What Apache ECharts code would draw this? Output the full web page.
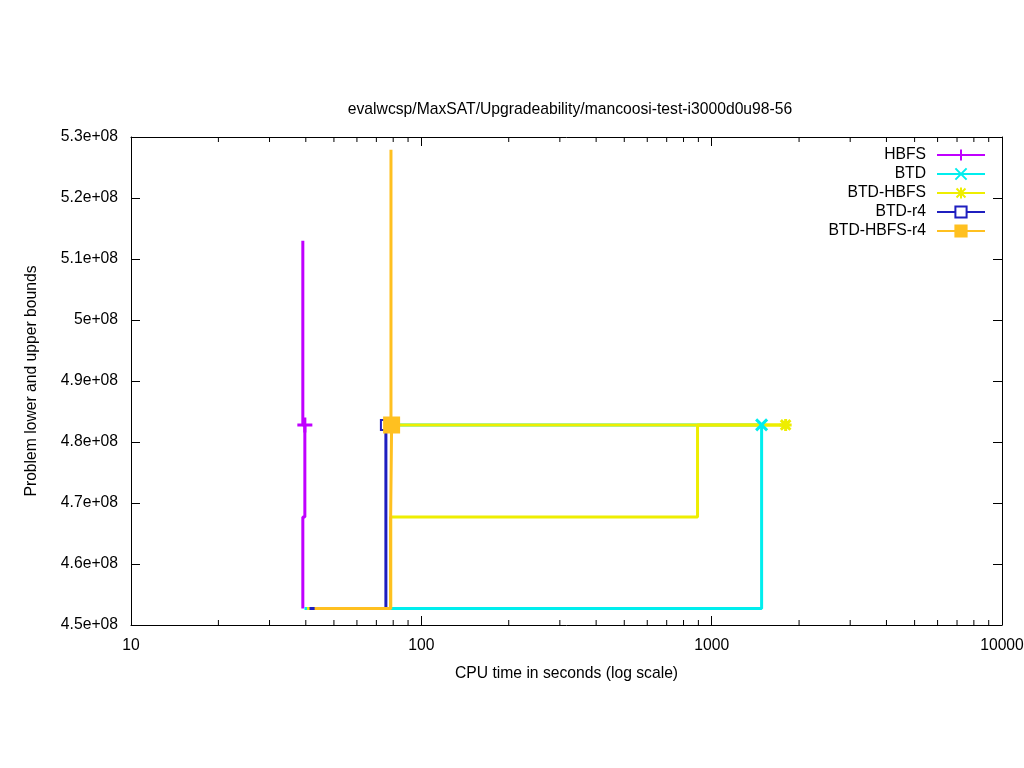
<!DOCTYPE html>
<html>
<head>
<meta charset="utf-8">
<script src="https://cdn.jsdelivr.net/npm/echarts@6/dist/echarts.min.js"></script>
<style>
html,body{margin:0;padding:0;background:#fff;}
#chart{width:1024px;height:768px;}
</style>
</head>
<body>
<div id="chart"></div>
<script>
// ---- data: [CPU time (s), bound] ----
const seriesNames = ['HBFS', 'BTD', 'BTD-HBFS', 'BTD-r4', 'BTD-HBFS-r4'];
const hbfsUpper = [[39.07, 5.13e8], [39.07, 4.828e8], [39.7, 4.828e8]];
const hbfsLower = [[39.07, 4.527e8], [39.07, 4.677e8], [39.7, 4.828e8]];
const btdUpper = [[78.6, 4.828e8], [1486, 4.828e8]];
const btdLower = [[39.6, 4.527e8], [1486, 4.828e8]];
const btdHbfsUpper = [[78.6, 4.828e8], [1798, 4.828e8]];
const btdHbfsLower = [[40.4, 4.527e8], [78.4, 4.677e8], [894, 4.828e8], [1798, 4.828e8]];
const btdR4Upper = [[75.5, 4.828e8]];
const btdR4Lower = [[41.2, 4.527e8], [75.5, 4.828e8]];
const btdHbfsR4Upper = [[78.6, 5.279e8], [78.6, 4.828e8], [79.0, 4.828e8]];
const btdHbfsR4Lower = [[42.9, 4.527e8], [78.4, 4.677e8], [79.0, 4.828e8]];
const xMinorTicks = [20,30,40,50,60,70,80,90,200,300,400,500,600,700,800,900,2000,3000,4000,5000,6000,7000,8000,9000];
const yMin = 4.5e8, yMax = 5.3e8, yStep = 1e7;

const colors = {
  'HBFS': '#c000ff',
  'BTD': '#00eeee',
  'BTD-HBFS': '#eeee00',
  'BTD-r4': '#1f1fbf',
  'BTD-HBFS-r4': '#ffc020'
};
const symbols = {
  'HBFS': {symbol: 'path://M0,5L10,5M5,0L5,10', size: 15},
  'BTD': {symbol: 'path://M0,0L10,10M10,0L0,10', size: 11},
  'BTD-HBFS': {symbol: 'path://M0,5L10,5M5,0L5,10M1,1L9,9M9,1L1,9', size: 12},
  'BTD-r4': {symbol: 'emptyRect', size: 10},
  'BTD-HBFS-r4': {symbol: 'rect', size: 14}
};

const FONT = 'Liberation Sans, Arial, sans-serif';
const FS = 15.7;

function mkSeries(name, data, withMarker) {
  const c = colors[name];
  const s = symbols[name];
  return {
    name: name,
    type: 'line',
    step: 'end',
    data: data.map((p, i) => (withMarker && i === data.length - 1)
      ? {value: p}
      : {value: p, symbol: 'none'}),
    symbol: s.symbol,
    symbolSize: s.size,
    showSymbol: true,
    lineStyle: {color: c, width: 3},
    itemStyle: {color: c, borderColor: c, borderWidth: 3},
    emphasis: {disabled: true},
    animation: false,
    clip: false,
    z: 2
  };
}

const series = [
  mkSeries('HBFS', hbfsUpper, true),
  mkSeries('HBFS', hbfsLower, false),
  mkSeries('BTD', btdUpper, true),
  mkSeries('BTD', btdLower, false),
  mkSeries('BTD-HBFS', btdHbfsUpper, true),
  mkSeries('BTD-HBFS', btdHbfsLower, false),
  mkSeries('BTD-r4', btdR4Upper, true),
  mkSeries('BTD-r4', btdR4Lower, false),
  mkSeries('BTD-HBFS-r4', btdHbfsR4Upper, true),
  mkSeries('BTD-HBFS-r4', btdHbfsR4Lower, false)
];

// minor ticks of the log axis (bottom and top, inward)
series.push({
  name: 'minorTicks',
  type: 'custom',
  silent: true,
  animation: false,
  clip: false,
  data: xMinorTicks.map(v => [v, yMin]),
  renderItem: function (params, api) {
    const v = api.value(0);
    const b = api.coord([v, yMin]);
    const t = api.coord([v, yMax]);
    return {
      type: 'group',
      children: [
        {type: 'line', shape: {x1: b[0], y1: b[1], x2: b[0], y2: b[1] - 5}, style: {stroke: '#000', lineWidth: 1}},
        {type: 'line', shape: {x1: t[0], y1: t[1], x2: t[0], y2: t[1] + 5}, style: {stroke: '#000', lineWidth: 1}}
      ]
    };
  },
  z: 5
});

const axisLineStyle = {show: true, lineStyle: {color: '#000', width: 1}};
const chart = echarts.init(document.getElementById('chart'), null, {renderer: 'canvas'});
chart.setOption({
  backgroundColor: '#fff',
  animation: false,
  title: {
    text: 'evalwcsp/MaxSAT/Upgradeability/mancoosi-test-i3000d0u98-56',
    left: 565, top: 97, textAlign: 'center',
    textStyle: {fontFamily: FONT, fontSize: FS, fontWeight: 'normal', color: '#000'}
  },
  legend: {
    data: seriesNames,
    orient: 'vertical',
    right: 33, top: 142,
    align: 'right',
    itemWidth: 48, itemHeight: 14, itemGap: 3,
    textStyle: {fontFamily: FONT, fontSize: FS, color: '#000', padding: [0, 6, 0, 0]},
    selectedMode: false
  },
  grid: {left: 131, right: 22, top: 137, bottom: 143, containLabel: false, outerBoundsMode: 'none'},
  xAxis: [{
    type: 'log', logBase: 10, min: 10, max: 10000,
    name: 'CPU time in seconds (log scale)', nameLocation: 'middle', nameGap: 41,
    nameTextStyle: {fontFamily: FONT, fontSize: FS, color: '#000'},
    axisLine: axisLineStyle,
    axisTick: {show: true, inside: true, length: 9, lineStyle: {color: '#000'}},
    axisLabel: {fontFamily: FONT, fontSize: FS, color: '#000', margin: 13,
      formatter: v => String(Math.round(v))},
    splitLine: {show: false}
  }, {
    type: 'log', logBase: 10, min: 10, max: 10000, position: 'top',
    axisLine: axisLineStyle,
    axisTick: {show: true, inside: true, length: 9, lineStyle: {color: '#000'}},
    axisLabel: {show: false}, splitLine: {show: false}
  }],
  yAxis: [{
    type: 'value', min: yMin, max: yMax, interval: yStep,
    name: 'Problem lower and upper bounds', nameLocation: 'middle', nameGap: 91,
    nameTextStyle: {fontFamily: FONT, fontSize: FS, color: '#000'},
    axisLine: axisLineStyle,
    axisTick: {show: true, inside: true, length: 9, lineStyle: {color: '#000'}},
    axisLabel: {fontFamily: FONT, fontSize: FS, color: '#000', margin: 13,
      formatter: v => (Math.round(v / 1e6) / 100).toString() + 'e+08'},
    splitLine: {show: false}
  }, {
    type: 'value', min: yMin, max: yMax, interval: yStep, position: 'right',
    axisLine: axisLineStyle,
    axisTick: {show: true, inside: true, length: 9, lineStyle: {color: '#000'}},
    axisLabel: {show: false}, splitLine: {show: false}
  }],
  series: series
});
</script>
</body>
</html>
